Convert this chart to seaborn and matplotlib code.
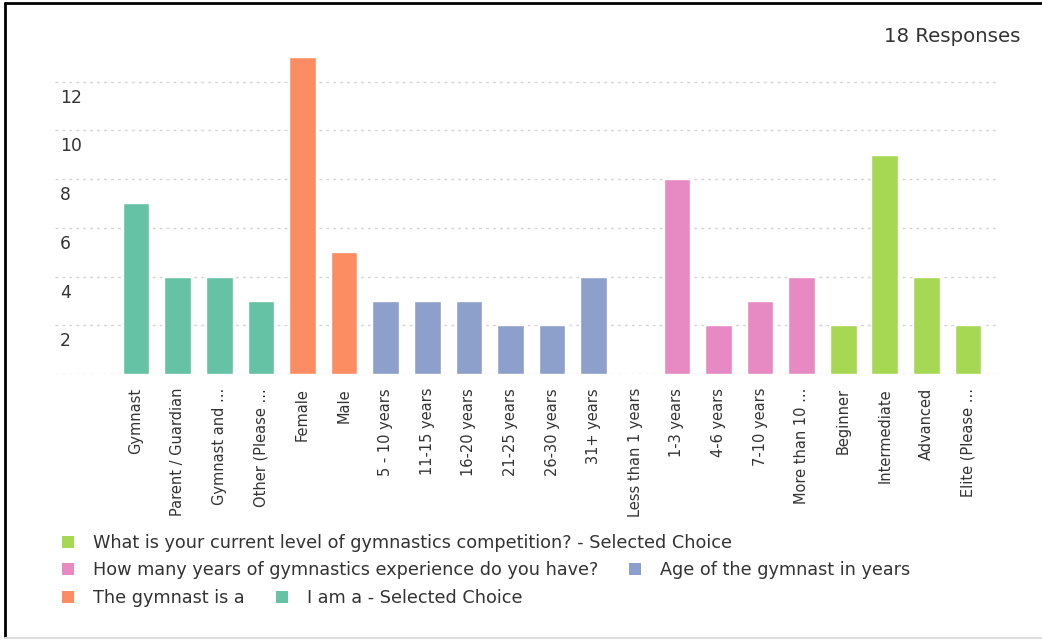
import matplotlib
matplotlib.use('Agg')
import matplotlib.pyplot as plt
import matplotlib.transforms as mtransforms
from matplotlib.patches import Patch
from matplotlib.lines import Line2D
import seaborn as sns
import pandas as pd

# ---------------- data ----------------
categories = ["Gymnast", "Parent / Guardian", "Gymnast and ...", "Other (Please ...",
              "Female", "Male",
              "5 - 10 years", "11-15 years", "16-20 years", "21-25 years", "26-30 years", "31+ years",
              "Less than 1 years", "1-3 years", "4-6 years", "7-10 years", "More than 10 ...",
              "Beginner", "Intermediate", "Advanced", "Elite (Please ..."]
values = [7, 4, 4, 3,
          13, 5,
          3, 3, 3, 2, 2, 4,
          0, 8, 2, 3, 4,
          2, 9, 4, 2]
group_names = ["I am a - Selected Choice",
               "The gymnast is a",
               "Age of the gymnast in years",
               "How many years of gymnastics experience do you have?",
               "What is your current level of gymnastics competition? - Selected Choice"]
group_sizes = [4, 2, 6, 5, 4]
group_colors = ["#66c2a5", "#fc8d62", "#8da0cb", "#e78ac3", "#a6d854"]
y_ticks = [0, 2, 4, 6, 8, 10, 12]
y_tick_labels = ["", "2", "4", "6", "8", "10", "12"]
responses_text = "18 Responses"

groups = []
for name, n in zip(group_names, group_sizes):
    groups += [name] * n
df = pd.DataFrame({"cat": categories, "val": values, "grp": groups})
palette = dict(zip(group_names, group_colors))

# ---------------- style ----------------
sns.set_theme(style="white")
plt.rcParams["font.family"] = ["DejaVu Sans"]
TXT = "#333333"

W, H = 1042, 641
fig = plt.figure(figsize=(W / 100, H / 100), dpi=100)
fig.patch.set_facecolor("white")

ax = fig.add_axes([55 / W, (H - 374) / H, 945 / W, 324 / H])
sns.barplot(data=df, x="cat", y="val", hue="grp", hue_order=group_names,
            order=categories, palette=palette, dodge=False, width=0.64,
            saturation=1, legend=False, ax=ax)

ax.set_xlim(-1.95, 20.77)
ax.set_ylim(0, 13.3)
ax.set_xlabel("")
ax.set_ylabel("")
for s in ax.spines.values():
    s.set_visible(False)

ax.set_axisbelow(True)
ax.grid(axis="y", color="#d4d4d4", linestyle=(0, (2, 3)), linewidth=1)
ax.grid(axis="x", visible=False)

ax.set_yticks(y_ticks)
ax.set_yticklabels(y_tick_labels)
ax.tick_params(axis="y", length=0, pad=-3.6, labelsize=12.3, labelcolor=TXT)
offset = mtransforms.ScaledTranslation(0, -0.14, fig.dpi_scale_trans)
for lbl in ax.get_yticklabels():
    lbl.set_ha("left")
    lbl.set_transform(lbl.get_transform() + offset)

ax.tick_params(axis="x", length=0, pad=10, labelsize=10.5, labelcolor=TXT, rotation=90)

fig.text(1021 / W, 1 - 37 / H, responses_text, ha="right", va="center",
         fontsize=14.2, color=TXT)

# ---------------- legend rows ----------------
leg_fs = 12.7
em = leg_fs * 100 / 72
handles = {n: Patch(facecolor=c, edgecolor="none") for n, c in zip(group_names, group_colors)}
rows = [([group_names[4]], 543),
        ([group_names[3], group_names[2]], 570),
        ([group_names[1], group_names[0]], 598)]
for names, ypix in rows:
    fig.legend([handles[n] for n in names], names, loc="center left",
               bbox_to_anchor=(62 / W, 1 - ypix / H), bbox_transform=fig.transFigure,
               ncol=len(names), frameon=False, borderpad=0, borderaxespad=0,
               handlelength=12 / em, handleheight=12 / em, handletextpad=19 / em,
               columnspacing=31 / em, fontsize=leg_fs, labelcolor=TXT)

# ---------------- border ----------------
fig.add_artist(Line2D([5 / W, 1], [1 - 3 / H, 1 - 3 / H], color="black", lw=2,
                      transform=fig.transFigure))
fig.add_artist(Line2D([5 / W, 5 / W], [1 - 3 / H, 1 - 637 / H], color="black", lw=2,
                      transform=fig.transFigure))
fig.add_artist(Line2D([5 / W, 1], [1 - 638 / H, 1 - 638 / H], color="#dddddd", lw=1.5,
                      transform=fig.transFigure))

fig.savefig("out.png", dpi=100, facecolor="white")
